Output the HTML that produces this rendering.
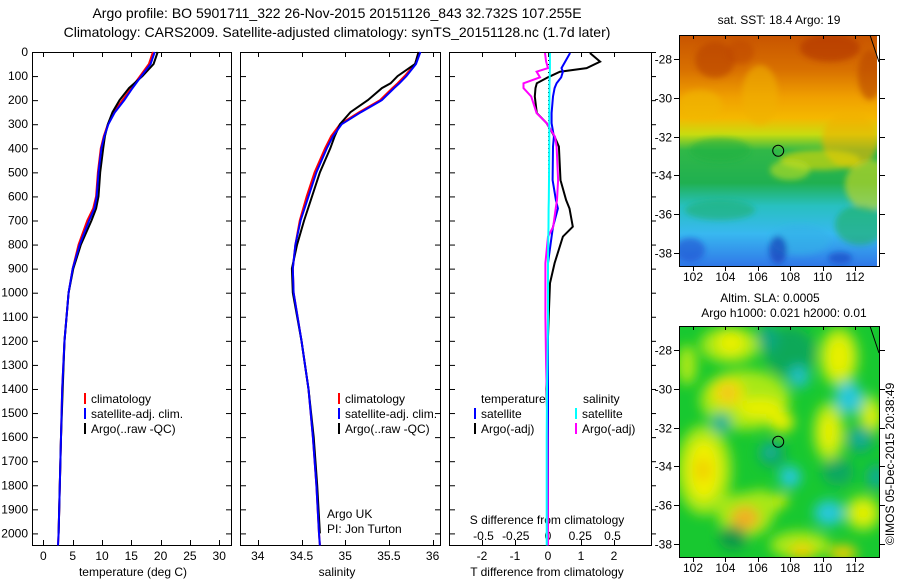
<!DOCTYPE html>
<html><head><meta charset="utf-8"><style>
html,body{margin:0;padding:0;background:#fff}
svg{display:block;font-family:"Liberation Sans",sans-serif;font-size:12px}
</style></head><body>
<svg id="c" width="900" height="580" viewBox="0 0 900 580" xmlns="http://www.w3.org/2000/svg">
<defs>
<linearGradient id="sstg" x1="0" y1="0" x2="0" y2="1">
<stop offset="0" stop-color="#c85400"/><stop offset="0.15" stop-color="#d87000"/>
<stop offset="0.27" stop-color="#f0a000"/><stop offset="0.36" stop-color="#f4b800"/>
<stop offset="0.43" stop-color="#c8dc10"/><stop offset="0.50" stop-color="#30b848"/>
<stop offset="0.64" stop-color="#20b050"/><stop offset="0.74" stop-color="#28c0c0"/>
<stop offset="0.86" stop-color="#38b8f0"/><stop offset="1" stop-color="#3078e8"/>
</linearGradient>
<filter id="blur" x="-20%" y="-20%" width="140%" height="140%"><feGaussianBlur stdDeviation="6"/></filter>
<filter id="blur2" x="-20%" y="-20%" width="140%" height="140%"><feGaussianBlur stdDeviation="3"/></filter>
<clipPath id="m1"><rect x="679" y="35" width="198" height="231"/></clipPath>
<clipPath id="m2"><rect x="679" y="326" width="201" height="231"/></clipPath>
</defs>
<g id="root"></g>
</svg>
<script>
const depthsT=[0,50,100,150,200,250,300,350,400,500,600,650,700,800,900,1000,1200,1400,1600,1800,2000,2050];
const tempClim=[18.7,18.0,16.5,15.0,13.5,12.0,11.0,10.3,9.8,9.3,9.0,8.5,7.5,6.0,5.0,4.3,3.6,3.2,3.0,2.8,2.6,2.5];
const tempSat=[19.0,18.3,16.7,15.2,13.8,12.2,11.1,10.4,9.9,9.4,9.1,8.7,7.8,6.2,5.0,4.3,3.6,3.2,3.0,2.8,2.6,2.5];
const tempArgo=[19.5,18.8,16.9,14.6,13.0,11.8,11.0,10.5,10.2,9.7,9.4,9.0,8.2,6.4,5.1,4.3,3.6,3.3,3.0,2.8,2.6];
const depthsS=[0,50,100,130,150,200,250,300,350,400,500,600,700,800,900,1000,1200,1400,1600,1800,2000,2050];
const salClim=[35.84,35.80,35.68,35.60,35.54,35.40,35.16,34.94,34.84,34.77,34.65,34.56,34.48,34.43,34.40,34.41,34.50,34.58,34.63,34.67,34.70,34.71];
const salSat=[35.86,35.81,35.70,35.62,35.56,35.42,35.18,34.96,34.86,34.79,34.67,34.58,34.49,34.43,34.40,34.41,34.50,34.58,34.63,34.67,34.70,34.71];
const salArgo=[35.84,35.80,35.60,35.52,35.42,35.26,35.06,34.94,34.88,34.83,34.71,34.62,34.53,34.45,34.39,34.40,34.50,34.58,34.64,34.68,34.71];
const depthsD=[4,40,67,82,105,130,150,185,254,296,352,393,532,615,650,726,767,877,960,1100,1300,1400,1600,2000,2050];
const dTArgo=[1.27,1.58,1.17,0.36,0.0,-0.34,-0.38,-0.40,-0.34,-0.04,0.20,0.33,0.38,0.55,0.65,0.75,0.45,0.20,0.06,0.02,-0.03,-0.05,0.0,0.0,0.0];
const dTSat=[0.67,0.52,0.41,0.45,0.40,0.26,0.20,0.15,0.11,0.11,0.18,0.15,0.14,0.24,0.30,0.15,0.11,0.0,0.0,0.0,0.0,0.0,0.0,0.0,0.0];
const dSArgo=[-0.023,-0.015,0.0,-0.088,-0.062,-0.19,-0.19,-0.13,-0.088,-0.01,0.054,0.067,0.078,0.07,0.06,0.04,0.0,-0.02,-0.02,-0.02,-0.015,-0.01,-0.005,0.0,0.0];
const dSSat=[0.015,0.015,0.015,0.014,0.013,0.012,0.012,0.011,0.01,0.01,0.01,0.01,0.008,0.006,0.005,0.004,0.002,0.0,0.0,0.0,-0.005,-0.008,-0.01,-0.01,-0.01];
const depthTicks=[0,100,200,300,400,500,600,700,800,900,1000,1100,1200,1300,1400,1500,1600,1700,1800,1900,2000];
const tTicks=[0,5,10,15,20,25,30];
const sTicks=[34,34.5,35,35.5,36];
const sTickLabels=["34","34.5","35","35.5","36"];
const dTTicks=[-2,-1,0,1,2];
const dSTicks=[-0.5,-0.25,0,0.25,0.5];
const dSTickLabels=["-0.5","-0.25","0","0.25","0.5"];
const latTicks=[-28,-30,-32,-34,-36,-38];
const lonTicks=[102,104,106,108,110,112];
const argoLon=107.26, argoLat=-32.73;

const NS="http://www.w3.org/2000/svg";
const root=document.getElementById('root');
function el(tag,attrs,parent){const e=document.createElementNS(NS,tag);for(const k in attrs)e.setAttribute(k,attrs[k]);(parent||root).appendChild(e);return e;}
function txt(x,y,s,anchor,parent){const t=el('text',{x:x,y:y,'text-anchor':anchor||'start'},parent);t.textContent=s;return t;}
const yD=d=>52+d*0.2407;
const xT=t=>43.4+t*5.86;
const xS=s=>257.8+(s-34)*87.4;
const xDT=v=>548+v*33;
const xDS=v=>548+v*129;
const yLat=(l,off)=>59+off+(-28-l)*19.4;
const xLon=l=>693+(l-102)*16.2;
const PT=52,PB=545;

function frame(x0,x1,name){
  const r=el('rect',{x:x0+.5,y:PT+.5,width:x1-x0,height:PB-PT,fill:'none',stroke:'#000','stroke-width':1});
  
  
}
function line(xs,ys,color,w,name){
  let d='';xs.forEach((v,i)=>{d+=(i?'L':'M')+v.toFixed(1)+','+ys[i].toFixed(1);});
  const p=el('path',{d:d,fill:'none',stroke:color,'stroke-width':w});
  
  
}
// titles
let t1=txt(337,18,"Argo profile: BO 5901711_322 26-Nov-2015 20151126_843 32.732S 107.255E",'middle');
t1.setAttribute('font-size','14');


let t2=txt(337,37,"Climatology: CARS2009. Satellite-adjusted climatology: synTS_20151128.nc (1.7d later)",'middle');
t2.setAttribute('font-size','14');



// depth axis
depthTicks.forEach(d=>{
  const t=txt(28,yD(d)+4,String(d),'end');
  
  
  [[32,37],[226,231],[240,245],[435,440],[449,454]].forEach(a=>el('line',{x1:a[0],x2:a[1]+1,y1:yD(d)+.5,y2:yD(d)+.5,stroke:'#000'}));
  el('line',{x1:651,x2:656,y1:yD(d)+.5,y2:yD(d)+.5,stroke:'#000'});
});
// panel 1
frame(32,231,'temperature-panel');
tTicks.forEach(v=>{const x=Math.round(xT(v))+.5;el('line',{x1:x,x2:x,y1:PT,y2:PT+5,stroke:'#000'});el('line',{x1:x,x2:x,y1:PB-5,y2:PB,stroke:'#000'});
 const t=txt(xT(v),560,String(v),'middle');});
let xl=txt(133,576,"temperature (deg C)",'middle');
line(tempClim.map(xT),depthsT.map(yD),'#f00',2,'temperature-climatology-line');
line(tempArgo.map(xT),depthsT.slice(0,tempArgo.length).map(yD),'#000',2,'temperature-argo-line');
line(tempSat.map(xT),depthsT.map(yD),'#00f',2,'temperature-satellite-line');
function legend(x,y,items,name){
  const g=el('g',{});
  items.forEach((it,i)=>{el('rect',{x:x,y:y+i*15-9,width:2,height:11,fill:it[1]},g);txt(x+7,y+i*15+1,it[0],'start',g);});
}
legend(84,402,[["climatology","#f00"],["satellite-adj. clim.","#00f"],["Argo(..raw -QC)","#000"]],'temperature-legend');
// panel 2
frame(240,440,'salinity-panel');
sTicks.forEach((v,i)=>{const x=Math.round(xS(v))+.5;el('line',{x1:x,x2:x,y1:PT,y2:PT+5,stroke:'#000'});el('line',{x1:x,x2:x,y1:PB-5,y2:PB,stroke:'#000'});
 const t=txt(xS(v),560,sTickLabels[i],'middle');});
xl=txt(337,576,"salinity",'middle');
line(salClim.map(xS),depthsS.map(yD),'#f00',2,'salinity-climatology-line');
line(salArgo.map(xS),depthsS.slice(0,salArgo.length).map(yD),'#000',2,'salinity-argo-line');
line(salSat.map(xS),depthsS.map(yD),'#00f',2,'salinity-satellite-line');
legend(338,402,[["climatology","#f00"],["satellite-adj. clim.","#00f"],["Argo(..raw -QC)","#000"]],'salinity-legend');
let a1=txt(327,518,"Argo UK");
let a2=txt(327,533,"PI: Jon Turton");
// panel 3
const p3=el('rect',{x:449.5,y:PT+.5,width:202,height:PB-PT,fill:'none',stroke:'#000'});


dTTicks.forEach(v=>{const x=Math.round(xDT(v))+.5;el('line',{x1:x,x2:x,y1:PT,y2:PT+5,stroke:'#000'});el('line',{x1:x,x2:x,y1:PB-5,y2:PB,stroke:'#000'});
 const t=txt(xDT(v),560,String(v),'middle');});
dSTicks.forEach((v,i)=>{const t=txt(xDS(v),540,dSTickLabels[i],'middle');});
xl=txt(547,576,"T difference from climatology",'middle');
xl=txt(547,524,"S difference from climatology",'middle');
el('line',{x1:548.5,x2:548.5,y1:PT,y2:PB,stroke:'#000','stroke-dasharray':'1,3'});
line(dTArgo.map(xDT),depthsD.map(yD),'#000',2,'t-diff-argo-line');
line(dTSat.map(xDT),depthsD.map(yD),'#00f',2,'t-diff-satellite-line');
line(dSArgo.map(xDS),depthsD.map(yD),'#f0f',2,'s-diff-argo-line');
line(dSSat.map(xDS),depthsD.map(yD),'#0ff',2,'s-diff-satellite-line');
let lg=txt(481,403,"temperature");
lg=txt(583,403,"salinity");
legend(474,417,[["satellite","#00f"],["Argo(-adj)","#000"]],'t-diff-legend');
legend(575,417,[["satellite","#0ff"],["Argo(-adj)","#f0f"]],'s-diff-legend');

// maps
function mapAxes(off,name){
  const y0=35+off;
  const fr=el('rect',{x:679.5,y:y0+.5,width:200,height:231,fill:'none',stroke:'#000'});
  
  
  latTicks.forEach(l=>{const y=Math.round(yLat(l,off))+.5;
    el('line',{x1:674,x2:679,y1:y,y2:y,stroke:'#000'});el('line',{x1:880,x2:885,y1:y,y2:y,stroke:'#000'});
    const t=txt(672,y+4,String(l),'end');});
  lonTicks.forEach(l=>{const x=Math.round(xLon(l))+.5;
    el('line',{x1:x,x2:x,y1:y0,y2:y0+4,stroke:'#000'});
    el('line',{x1:x,x2:x,y1:y0+231,y2:y0+236,stroke:'#000'});
    const t=txt(xLon(l),y0+246,String(l),'middle');});
  el('path',{d:`M870,${y0} L879,${y0+27}`,stroke:'#000',fill:'none'});
  const c=el('circle',{cx:xLon(argoLon),cy:yLat(argoLat,off),r:5.5,fill:'none',stroke:'#000'});
  
}
// SST map
const g1=el('g',{'clip-path':'url(#m1)'});
el('rect',{x:679,y:35,width:201,height:231,fill:'url(#sstg)'},g1);
const g1b=el('g',{filter:'url(#blur2)'},g1);
[[715,60,20,18,'#b84000'],[830,48,30,14,'#b03400'],[870,75,12,25,'#b84400'],[740,52,14,12,'#c04800'],
 [760,95,18,30,'#f0b000'],[700,105,22,15,'#f0b800'],[850,140,28,28,'#f0b000'],[820,160,40,10,'#e8d800'],
 [870,185,25,25,'#d0d820'],[720,150,30,12,'#20b040'],[790,170,20,10,'#c0e020'],
 [720,210,35,10,'#20b070'],[860,225,25,20,'#20b060'],[800,240,30,15,'#30b0e8'],
 [690,250,15,12,'#2050d0'],[778,250,9,14,'#1030b0'],[840,258,12,6,'#1840c0']].forEach(b=>el('ellipse',{cx:b[0],cy:b[1],rx:b[2],ry:b[3],fill:b[4],opacity:0.6},g1b));
mapAxes(0,'sst-map');
let mt=txt(779,24,"sat. SST: 18.4  Argo: 19",'middle');
// SLA map
const g2=el('g',{'clip-path':'url(#m2)'});
el('rect',{x:679,y:326,width:201,height:231,fill:'#18c830'},g2);
const g2b=el('g',{filter:'url(#blur)'},g2);
// light yellow-green halos
[[745,400,45,30],[704,470,28,45],[745,515,28,22],[839,357,20,30],[829,432,16,30],[863,513,18,18],[730,345,30,18],[687,365,10,20],[800,545,30,14],[870,415,12,20],[760,505,20,15]].forEach(b=>el('ellipse',{cx:b[0],cy:b[1],rx:b[2],ry:b[3],fill:'#a8e818'},g2b));
// yellow cores
[[728,393,16,14,'#f0e000'],[760,408,22,10,'#e8f000'],[782,422,12,10,'#e8f000'],[731,343,14,12,'#e8f000'],[839,357,12,20,'#e8f000'],
 [704,470,16,30,'#f0f000'],[703,470,8,12,'#f0d000'],[745,518,14,12,'#f0b020'],[829,432,8,18,'#e8f000'],[863,513,10,10,'#e8f000'],
 [802,552,12,8,'#f0d000'],[843,553,14,8,'#f0d000'],[873,417,6,10,'#e8f000'],[782,500,6,6,'#e8f000'],[728,393,8,7,'#f0c020']].forEach(b=>el('ellipse',{cx:b[0],cy:b[1],rx:b[2],ry:b[3],fill:b[4]},g2b));
// dark green / teal
[[790,352,25,25,'#10a858'],[733,538,14,12,'#109848'],[772,454,14,14,'#10a858'],[860,440,14,14,'#10a868'],[838,472,16,14,'#10a860'],[876,477,10,14,'#10a868'],
 [799,377,11,11,'#20c0c0'],[849,398,14,16,'#28c8d8'],[721,423,10,10,'#18b098'],[770,452,8,8,'#18b098'],[790,477,11,11,'#28c8d8'],[829,513,15,13,'#28c8d8'],[860,438,8,8,'#18b0a0'],[876,477,6,8,'#18b0a0'],[768,338,10,14,'#10a880']].forEach(b=>el('ellipse',{cx:b[0],cy:b[1],rx:b[2],ry:b[3],fill:b[4]},g2b));
mapAxes(291,'sla-map');
mt=txt(770,302,"Altim. SLA: 0.0005",'middle');
const hl=txt(784,317,"Argo h1000: 0.021  h2000: 0.01",'middle');


const cp=el('text',{x:0,y:0,transform:'translate(894,545) rotate(-90)'});cp.textContent="©IMOS 05-Dec-2015 20:38:49";


</script>
</body></html>
